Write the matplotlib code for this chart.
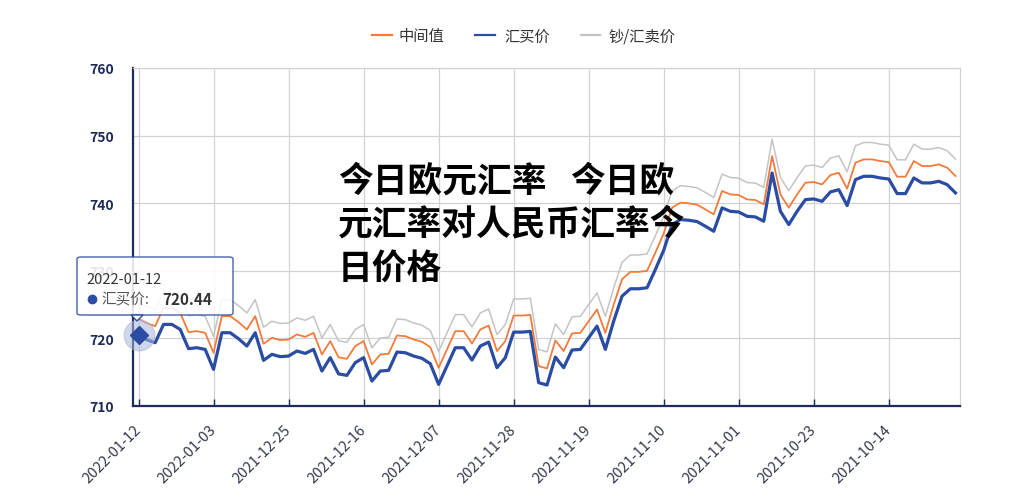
import matplotlib
matplotlib.use("Agg")
import matplotlib.pyplot as plt
import numpy as np
import pandas as pd
from matplotlib.patches import FancyBboxPatch, Polygon
from matplotlib.lines import Line2D

plt.rcParams['font.family'] = ['Noto Sans CJK SC', 'DejaVu Sans']

# ---------------- data ----------------
dates = [d.strftime('%Y-%m-%d') for d in pd.date_range(end='2022-01-12', periods=99)[::-1]]
tick_labels = ['2022-01-12', '2022-01-03', '2021-12-25', '2021-12-16', '2021-12-07',
               '2021-11-28', '2021-11-19', '2021-11-10', '2021-11-01', '2021-10-23',
               '2021-10-14']

buy = [720.44, 719.80, 719.36, 722.07, 722.07, 721.33, 718.48, 718.62, 718.37, 715.42,
       720.84, 720.84, 719.95, 718.87, 720.84, 716.75, 717.64, 717.30, 717.39, 718.13,
       717.78, 718.37, 715.17, 717.15, 714.75, 714.53, 716.41, 717.15, 713.69, 715.17,
       715.27, 717.98, 717.88, 717.39, 717.05, 716.26, 713.20, 715.91, 718.62, 718.62,
       716.80, 718.87, 719.45, 715.67, 717.15, 720.93, 720.93, 721.03, 713.45, 713.10,
       717.24, 715.67, 718.28, 718.37, 720.10, 721.82, 718.37, 722.56, 726.25, 727.34,
       727.34, 727.49, 730.19, 733.04, 736.84, 737.58, 737.48, 737.28, 736.59, 735.85,
       739.30, 738.80, 738.70, 738.06, 737.97, 737.33, 744.47, 738.80, 736.84, 738.80,
       740.53, 740.63, 740.28, 741.67, 742.00, 739.65, 743.49, 743.98, 743.98, 743.73,
       743.58, 741.42, 741.42, 743.73, 743.00, 743.00, 743.24, 742.75, 741.52]

mid = [722.89, 722.25, 721.81, 724.52, 724.52, 723.78, 720.93, 721.07, 720.82, 717.87,
       723.29, 723.29, 722.40, 721.32, 723.29, 719.20, 720.09, 719.75, 719.84, 720.58,
       720.23, 720.82, 717.62, 719.60, 717.20, 716.98, 718.86, 719.60, 716.14, 717.62,
       717.72, 720.43, 720.33, 719.84, 719.50, 718.71, 715.65, 718.36, 721.07, 721.07,
       719.25, 721.32, 721.90, 718.12, 719.60, 723.38, 723.38, 723.48, 715.90, 715.55,
       719.69, 718.12, 720.73, 720.82, 722.55, 724.27, 720.82, 725.01, 728.75, 729.84,
       729.84, 729.99, 732.69, 735.54, 739.34, 740.08, 739.98, 739.78, 739.09, 738.35,
       741.80, 741.30, 741.20, 740.56, 740.47, 739.83, 746.97, 741.30, 739.34, 741.30,
       743.03, 743.13, 742.78, 744.17, 744.50, 742.15, 745.99, 746.48, 746.48, 746.23,
       746.08, 743.92, 743.92, 746.23, 745.50, 745.50, 745.74, 745.25, 744.02]

sell = [725.34, 724.70, 724.26, 726.97, 726.97, 726.23, 723.38, 723.52, 723.27, 720.32,
        725.74, 725.74, 724.85, 723.77, 725.74, 721.65, 722.54, 722.20, 722.29, 723.03,
        722.68, 723.27, 720.07, 722.05, 719.65, 719.43, 721.31, 722.05, 718.59, 720.07,
        720.17, 722.88, 722.78, 722.29, 721.95, 721.16, 718.10, 720.81, 723.52, 723.52,
        721.70, 723.77, 724.35, 720.57, 722.05, 725.83, 725.83, 725.93, 718.35, 718.00,
        722.14, 720.57, 723.18, 723.27, 725.00, 726.72, 723.27, 727.46, 731.25, 732.34,
        732.34, 732.49, 735.19, 738.04, 741.84, 742.58, 742.48, 742.28, 741.59, 740.85,
        744.30, 743.80, 743.70, 743.06, 742.97, 742.33, 749.47, 743.80, 741.84, 743.80,
        745.53, 745.63, 745.28, 746.67, 747.00, 744.65, 748.49, 748.98, 748.98, 748.73,
        748.58, 746.42, 746.42, 748.73, 748.00, 748.00, 748.24, 747.75, 746.52]

series_names = ['中间值', '汇买价', '钞/汇卖价']
title_lines = ['今日欧元汇率', '今日欧', '元汇率对人民币汇率今', '日价格']

# ---------------- style ----------------
C_MID = '#f47a3c'
C_BUY = '#2a4ca3'
C_SELL = '#c4c4c4'
NAVY = '#1f2b57'
GRID = '#d2d2d2'

W, H = 1024, 502
def fx(x): return x / W
def fy(y): return 1 - y / H

fig = plt.figure(figsize=(W / 100, H / 100), dpi=100)
ax = fig.add_axes([fx(133), fy(407), (960 - 133) / W, (407 - 69) / H])

x = np.arange(len(buy))
ax.plot(x, sell, color=C_SELL, lw=1.1, zorder=3)
ax.plot(x, mid, color=C_MID, lw=1.3, zorder=4)
ax.plot(x, buy, color=C_BUY, lw=2.3, zorder=5)

ax.set_ylim(710, 760)
ax.set_yticks(np.arange(710, 761, 10))
ax.set_xlim(-0.66, 98.54)
tick_pos = [dates.index(t) for t in tick_labels]
ax.set_xticks(tick_pos)
ax.set_xticklabels(tick_labels)

ax.grid(True, color=GRID, lw=0.9)
ax.set_axisbelow(True)

for s in ['left', 'bottom']:
    ax.spines[s].set_color(NAVY)
    ax.spines[s].set_linewidth(1.6)
for s in ['top', 'right']:
    ax.spines[s].set_color(GRID)
    ax.spines[s].set_linewidth(0.9)

ax.tick_params(axis='y', length=0, pad=14, labelsize=10, labelcolor=NAVY)
for lab in ax.get_yticklabels():
    lab.set_fontweight('bold')
ax.tick_params(axis='x', direction='in', length=5, width=1, color=NAVY,
               pad=15, labelsize=10.5, labelcolor='#33384a')
for lab in ax.get_xticklabels():
    lab.set_rotation(45)
    lab.set_ha('right')
    lab.set_va('center')
    lab.set_rotation_mode('anchor')

# highlighted point
ax.plot(0, buy[0], 'o', ms=22, color='#aab6dc', alpha=0.55, zorder=6, clip_on=False)
ax.plot(0, buy[0], 'D', ms=9, color=C_BUY, zorder=7, clip_on=False)

# ---------------- legend ----------------
leg_items = [(372, 392, 399, C_MID, series_names[0]),
             (475, 495, 504, C_BUY, series_names[1]),
             (581, 600, 608, C_SELL, series_names[2])]
for x0, x1, tx, col, name in leg_items:
    fig.add_artist(Line2D([fx(x0), fx(x1)], [fy(36), fy(36)], color=col, lw=1.6,
                          transform=fig.transFigure))
    fig.text(fx(tx), fy(37), name, fontsize=11, color='#333333', va='center',
             ha='left', fontweight='medium')

# ---------------- tooltip ----------------
box = FancyBboxPatch((fx(77), fy(316)), (233 - 77) / W, (316 - 258) / H,
                     boxstyle='round,pad=0,rounding_size=0.004',
                     transform=fig.transFigure, facecolor='white', alpha=0.88,
                     edgecolor=C_BUY, lw=1.0, zorder=20)
fig.add_artist(box)
tri = Polygon([[fx(131), fy(316)], [fx(137), fy(322)], [fx(143), fy(316)]],
              closed=True, transform=fig.transFigure, facecolor='white',
              edgecolor=C_BUY, lw=1.0, zorder=21)
fig.add_artist(tri)
fig.text(fx(86), fy(280), dates[0], fontsize=10.5, color='#333333',
         va='center', ha='left', zorder=22)
fig.add_artist(Line2D([fx(92)], [fy(300)], marker='o', ms=6, color=C_BUY,
                      transform=fig.transFigure, zorder=22))
fig.text(fx(101), fy(300), series_names[1] + ':', fontsize=10.5, color='#555555',
         va='center', ha='left', zorder=22)
fig.text(fx(162), fy(300), f'{buy[0]:.2f}', fontsize=11, color='#333333',
         fontweight='bold', va='center', ha='left', zorder=22)

# ---------------- overlay title ----------------
TS = 25
fig.text(fx(338), fy(181), title_lines[0], fontsize=TS, fontweight='bold',
         color='black', va='center', ha='left', zorder=30)
fig.text(fx(570), fy(181), title_lines[1], fontsize=TS, fontweight='bold',
         color='black', va='center', ha='left', zorder=30)
fig.text(fx(338), fy(224), title_lines[2], fontsize=TS, fontweight='bold',
         color='black', va='center', ha='left', zorder=30)
fig.text(fx(338), fy(268), title_lines[3], fontsize=TS, fontweight='bold',
         color='black', va='center', ha='left', zorder=30)

fig.savefig('out.png', dpi=100, facecolor='white')
